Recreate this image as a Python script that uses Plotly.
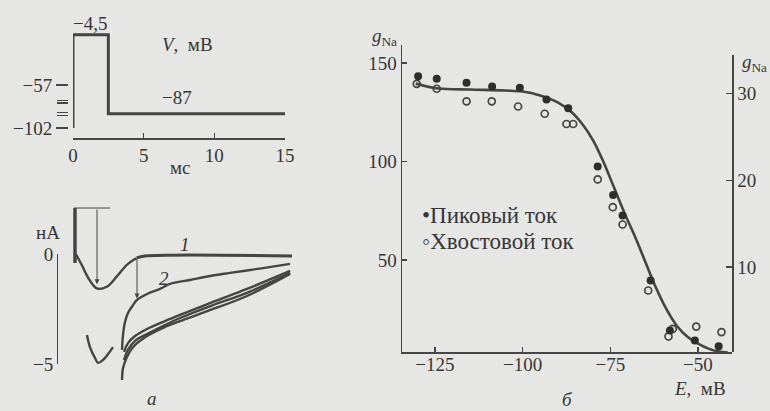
import plotly.graph_objects as go

W, H = 770, 411
def px(x): return x / W
def py(y): return 1 - y / H

FONT = "Liberation Serif"
INK = "#363636"
LINE = "#444444"
BG = "#e6e6e4"

# ---- panel a (top): voltage protocol ----
v_t = [0, 0, 2.5, 2.5, 15]
v_mV = [-102, -4.5, -4.5, -87, -87]
v_xticks = [0, 5, 10, 15]
v_yticks = [-57, -102]
v_yticktext = ["\u221257", "\u2212102"]
v_minor_ticks = [-73, -76, -86, -89]

# ---- panel a (bottom): currents ----
cap_t = [0.14, 0.14]
cap_I = [2.09, -0.41]
early_t = [0.2, 0.30, 0.62, 1.08, 1.68, 2.39, 3.09, 3.80, 4.27, 4.51]
early_I = [0.0, -0.12, -0.50, -1.09, -1.56, -1.49, -1.03, -0.50, -0.27, -0.20]
c1_t = [4.51, 5.10, 15.5]
c1_I = [-0.18, -0.09, -0.09]
c2_t = [3.47, 3.54, 3.68, 3.89, 4.25, 4.53, 5.24, 6.16, 6.86, 8.28, 9.70, 11.11, 13.45, 15.36]
c2_I = [-4.36, -3.68, -3.09, -2.68, -2.32, -2.09, -1.82, -1.59, -1.36, -1.18, -1.00, -0.86, -0.64, -0.45]
c3_t = [3.61, 3.89, 4.39, 5.24, 6.51, 7.57, 9.91, 12.31, 15.36]
c3_I = [-4.45, -4.05, -3.73, -3.41, -3.05, -2.77, -2.18, -1.59, -0.77]
c4_t = [3.61, 3.89, 4.39, 5.24, 6.51, 7.57, 9.91, 12.31, 15.36]
c4_I = [-4.82, -4.36, -3.95, -3.64, -3.23, -2.91, -2.32, -1.77, -0.86]
c5_t = [3.47, 3.54, 3.82, 4.25, 5.24, 6.51, 7.57, 9.55, 12.31, 15.36]
c5_I = [-5.73, -5.18, -4.68, -4.23, -3.73, -3.32, -3.05, -2.59, -1.91, -0.91]
big_t = [0.99, 1.20, 1.56, 1.77, 2.12, 2.48, 2.83]
big_I = [-3.68, -4.23, -4.73, -4.95, -4.82, -4.55, -4.23]
mark_t = [0.07, 2.62]
mark_I = [2.09, 2.09]
peak_arrow = (1.70, 2.09, -1.38)
tail_arrow = (4.53, -0.18, -2.02)
i_ticks = [0, -5]
i_ticktext = ["0", "\u22125"]

# ---- panel б: g_Na vs E ----
peak_E = [-129.8, -124.5, -116, -108.7, -100.8, -93.2, -87, -78.6, -74.2, -71.5, -63.5, -58, -50.9, -44.1]
peak_g = [143.3, 142, 140, 138, 137.4, 131.5, 127, 97.5, 83, 72.6, 39.6, 14.2, 9.1, 6.2]
tail_E = [-130.2, -124.5, -116, -108.8, -101.3, -93.7, -87.5, -85.6, -78.6, -74.3, -71.5, -64.2, -57.2, -58.4, -50.5, -43.3]
tail_g = [139.4, 136.9, 130.5, 130.5, 127.9, 124.2, 119, 119, 90.9, 76.8, 68, 34.5, 15, 11.2, 16.2, 13.4]
fit_E = [-130.5, -124, -115, -105, -100, -95, -90, -86, -83, -80, -77, -74, -71, -68, -65, -62, -59, -56, -53, -50, -47, -44, -41.5]
fit_g = [139.5, 137, 136.5, 136, 135.5, 133.5, 130, 125, 119, 111, 100, 87, 74, 62, 49, 36, 25, 16.5, 11, 7.5, 5, 3.5, 3]
e_ticks = [-125, -100, -75, -50]
e_ticktext = ["\u2212125", "\u2212100", "\u221275", "\u221250"]
g_ticks = [50, 100, 150]
g2_ticks = [10, 20, 30]

fig = go.Figure()

fig.add_trace(go.Scatter(x=v_t, y=v_mV, mode="lines", line=dict(color=LINE, width=3),
                         xaxis="x", yaxis="y", hoverinfo="skip"))

for tt, ii, w in [(cap_t, cap_I, 3.5), (mark_t, mark_I, 1), (early_t, early_I, 2.4),
                  (c1_t, c1_I, 3), (c2_t, c2_I, 2.4), (c3_t, c3_I, 2.4),
                  (c4_t, c4_I, 2.4), (c5_t, c5_I, 2.4), (big_t, big_I, 2.4)]:
    fig.add_trace(go.Scatter(x=tt, y=ii, mode="lines", line=dict(color=LINE, width=w, shape="spline"),
                             xaxis="x2", yaxis="y2", hoverinfo="skip"))
fig.add_trace(go.Scatter(x=[None], y=[None], xaxis="x2", yaxis="y3", hoverinfo="skip"))

fig.add_trace(go.Scatter(x=fit_E, y=fit_g, mode="lines", line=dict(color=LINE, width=2.6, shape="spline"),
                         xaxis="x3", yaxis="y4", hoverinfo="skip"))
fig.add_trace(go.Scatter(x=tail_E, y=tail_g, mode="markers",
                         marker=dict(symbol="circle-open", size=7, color=LINE, line=dict(width=1.7)),
                         xaxis="x3", yaxis="y4", cliponaxis=False, hoverinfo="skip"))
fig.add_trace(go.Scatter(x=peak_E, y=peak_g, mode="markers",
                         marker=dict(symbol="circle", size=8, color="#2e2e2e"),
                         xaxis="x3", yaxis="y4", cliponaxis=False, hoverinfo="skip"))
fig.add_trace(go.Scatter(x=[None], y=[None], xaxis="x3", yaxis="y5", hoverinfo="skip"))

tickfont = dict(family=FONT, size=19, color=INK)
common = dict(showgrid=False, zeroline=False, tickfont=tickfont, linecolor="#454545",
              tickcolor="#454545", fixedrange=True, automargin=False)

fig.update_layout(
    template="none",
    width=W, height=H, margin=dict(l=0, r=0, t=0, b=0, autoexpand=False),
    paper_bgcolor=BG, plot_bgcolor="rgba(0,0,0,0)", showlegend=False,
    xaxis=dict(domain=[px(73), px(285)], range=[0, 15], anchor="y", showline=True, linewidth=1.5,
               ticks="inside", ticklen=5, tickwidth=1.2, tickvals=v_xticks, **common),
    yaxis=dict(domain=[py(138), py(30.5)], range=[-112.5, 0], anchor="free", position=px(68),
               showline=False, ticks="outside", ticklen=12, tickwidth=1.3,
               tickvals=v_yticks, ticktext=v_yticktext,
               minor=dict(tickvals=v_minor_ticks, ticks="outside", ticklen=11, tickwidth=1.3,
                          tickcolor="#454545", showgrid=False),
               **common),
    xaxis2=dict(domain=[px(57), px(295)], range=[-1.132, 15.71], anchor="y2", visible=False,
                fixedrange=True, automargin=False),
    yaxis2=dict(domain=[py(385), py(200)], range=[-5.955, 2.4545], anchor="x2", visible=False,
                fixedrange=True, automargin=False),
    yaxis3=dict(domain=[py(364), py(254)], range=[-5, 0], anchor="free", position=px(57),
                showline=True, linewidth=1.2, ticks="inside", ticklen=8, tickwidth=1.2,
                tickvals=i_ticks, ticktext=i_ticktext, **common),
    xaxis3=dict(domain=[px(402), px(732)], range=[-134.4, -40.3], anchor="y4", showline=True, linewidth=1.5,
                ticks="inside", ticklen=5, tickwidth=1.2, tickvals=e_ticks, ticktext=e_ticktext,
                ticklabelstandoff=-5, **common),
    yaxis4=dict(domain=[py(352), py(45)], range=[3.3, 159.1], anchor="x3", showline=True, linewidth=1.5,
                ticks="inside", ticklen=5, tickwidth=1.2, tickvals=g_ticks, **common),
    yaxis5=dict(domain=[py(352), py(55)], range=[0.23, 34.4], anchor="x3", side="right", showline=True,
                linewidth=1.5, ticks="inside", ticklen=6, tickwidth=1.2, tickvals=g2_ticks, **common),
)

def label(x, y, text, size=19, xanchor="center"):
    fig.add_annotation(x=px(x), y=py(y), xref="paper", yref="paper", text=text, showarrow=False,
                       xanchor=xanchor, yanchor="middle", font=dict(family=FONT, size=size, color=INK))

label(90, 23, "\u22124,5")
label(187, 45, "<i>V</i>,  мВ")
label(177, 97, "\u221287")
label(180, 167, "мс")
label(48, 232, "нА")
label(185, 244, "<i>1</i>")
label(164, 278, "<i>2</i>")
label(152, 398, "<i>а</i>")
label(384, 37, "<i>g</i><sub>Na</sub>")
label(754, 63, "<i>g</i><sub>Na</sub>")
label(420, 215, "\u2022Пиковый ток", size=23, xanchor="left")
label(420, 242, "\u25e6Хвостовой ток", size=23, xanchor="left")
label(700, 388, "<i>E</i>,  мВ")
label(567, 399, "<i>б</i>")

for (t0, ytail, yhead) in [peak_arrow, tail_arrow]:
    fig.add_annotation(x=t0, y=yhead, ax=t0, ay=ytail, xref="x2", yref="y2", axref="x2", ayref="y2",
                       text="", showarrow=True, arrowhead=2, arrowsize=1, arrowwidth=1, arrowcolor=LINE)

fig.write_html("out.html", config={"displayModeBar": False, "staticPlot": True},
               post_script="document.body.style.margin='0';document.body.style.overflow='hidden';")
